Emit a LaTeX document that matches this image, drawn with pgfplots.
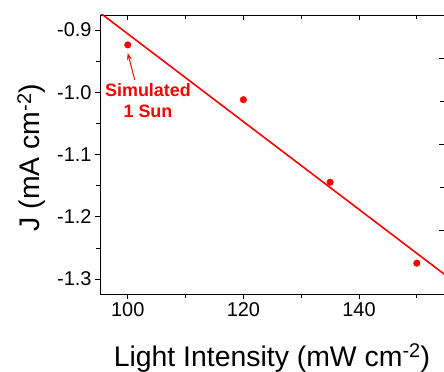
\documentclass[border=0pt]{standalone}
\usepackage{fontspec}
\setmainfont{Liberation Sans}
\usepackage{pgfplots}
\pgfplotsset{compat=1.18}
\usetikzlibrary{arrows.meta}
\begin{document}
\begin{tikzpicture}
\begin{axis}[
  at={(0bp,0bp)}, anchor=south west,
  scale only axis, width=344bp, height=279bp,
  xmin=95.2, xmax=154.7, ymin=-1.324, ymax=-0.876,
  axis x line=box, axis y line=left,
  axis line style={-, line width=0.8bp, black},
  xtick={100,120,140}, minor xtick={110,130,150},
  ytick={-1.3,-1.2,-1.1,-1.0,-0.9},
  yticklabels={-1.3,-1.2,-1.1,-1.0,-0.9},
  minor ytick={-1.25,-1.15,-1.05,-0.95},
  xtick pos=left,
  tick align=outside, major tick length=5bp, minor tick length=3.5bp,
  every tick/.style={line width=0.8bp, black},
  ticklabel style={font=\fontsize{20}{24}\selectfont},
  /pgf/number format/assume math mode=true,
  clip mode=individual,
]
\addplot[red, line width=1.6bp, no marks] coordinates {(95,-0.871) (156,-1.301)};
\addplot[only marks, mark=*, mark size=3.3bp, red, mark options={draw=red, fill=red}] coordinates {
 (100,-0.924) (120,-1.012) (135,-1.1445) (150,-1.2745)};
\node[red, font=\fontsize{18}{21}\selectfont\bfseries, align=center] at (axis cs:103.5,-1.014) {Simulated\\1 Sun};
\draw[-{Stealth[length=7bp,width=5bp]}, red!90!orange, line width=1bp] (axis cs:101.2,-0.980) -- (axis cs:100,-0.937);
\node[anchor=base, font=\fontsize{28.5}{34}\selectfont] at ([yshift=-72bp]rel axis cs:0.5,0) {Light Intensity (mW cm\textsuperscript{-2})};
\node[anchor=base, rotate=90, font=\fontsize{28.5}{34}\selectfont] at ([xshift=-60bp,yshift=-3bp]rel axis cs:0,0.5) {J (mA cm\textsuperscript{-2})};
\end{axis}
\begin{axis}[
  at={(0bp,0bp)}, anchor=south west,
  scale only axis, width=344bp, height=279bp,
  xmin=95.2, xmax=154.7, ymin=0, ymax=279,
  axis x line*=top, axis y line*=right,
  x axis line style={draw=none}, y axis line style={draw=none},
  xtick={100,120,140}, minor xtick={110,130,150},
  ytick={64,150,236}, minor ytick={107,193},
  xticklabels={}, yticklabels={},
  tick align=inside, major tick length=5bp, minor tick length=4bp,
  every tick/.style={line width=0.8bp, black},
]
\end{axis}
\pgfresetboundingbox
\path[use as bounding box] (-100bp,-78bp) rectangle (344bp,294bp);
\end{tikzpicture}
\end{document}
